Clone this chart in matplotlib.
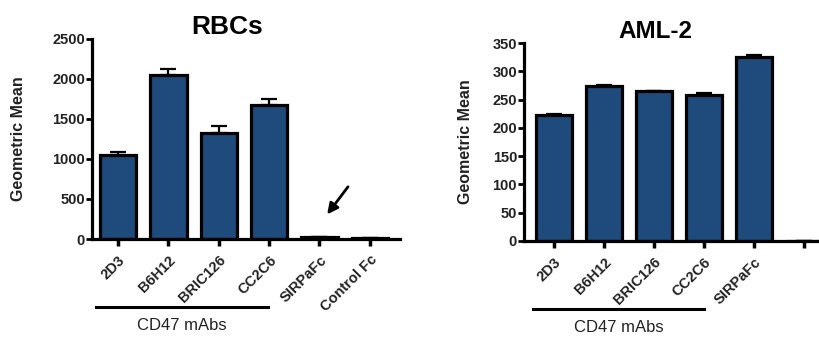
import matplotlib
matplotlib.use("Agg")
import matplotlib.pyplot as plt

plt.rcParams["font.family"] = ["Liberation Sans", "DejaVu Sans"]

BAR_COLOR = "#1F4A7C"

rbc_labels = ["2D3", "B6H12", "BRIC126", "CC2C6", "SIRPaFc", "Control Fc"]
rbc_values = [1045, 2045, 1320, 1680, 25, 15]
rbc_errors = [40, 75, 95, 65, 5, 3]

aml_labels = ["2D3", "B6H12", "BRIC126", "CC2C6", "SIRPaFc", ""]
aml_values = [223, 274, 265, 258, 325, 0]
aml_errors = [1, 1, 1, 3, 3, 0]

group_label = "CD47 mAbs"
# arrow pointing at the SIRPaFc bar in the RBC panel (data coords)
arrow_tail = (4.6, 680)
arrow_head = (4.12, 280)


def draw_panel(ax, labels, values, errors, ymax, ystep, title, xlim, title_size,
               title_x, title_pad, ylab_x):
    x = list(range(len(labels)))
    ax.bar(x, values, width=0.72, color=BAR_COLOR, edgecolor="black", linewidth=2.3, zorder=2)
    ax.errorbar(x, values, yerr=[[0] * len(errors), errors], fmt="none", ecolor="black",
                elinewidth=1.6, capsize=6, capthick=1.6, zorder=1)
    ax.set_xlim(*xlim)
    ax.set_ylim(0, ymax)
    ax.set_yticks(range(0, ymax + 1, ystep))
    ax.set_xticks(x)
    ax.set_xticklabels(labels, rotation=45, ha="right", rotation_mode="anchor",
                       fontsize=10.5, fontweight="bold", color="#222222")
    for lab in ax.get_yticklabels():
        lab.set_fontweight("bold")
        lab.set_fontsize(10.5)
        lab.set_color("#222222")
    ax.tick_params(axis="y", length=4, width=2, pad=1)
    ax.tick_params(axis="x", length=5, width=2.5, pad=5)
    for side in ["top", "right"]:
        ax.spines[side].set_visible(False)
    for side in ["left", "bottom"]:
        ax.spines[side].set_linewidth(2.3)
    ax.set_ylabel("Geometric Mean", fontsize=11.5, fontweight="bold", color="#222222")
    ax.yaxis.set_label_coords(ylab_x, 0.5)
    ax.set_title(title, fontsize=title_size, fontweight="bold", x=title_x, pad=title_pad)


fig = plt.figure(figsize=(8.2, 3.37), dpi=100)

ax1 = fig.add_axes([0.1122, 0.2908, 0.3756, 0.5935])
draw_panel(ax1, rbc_labels, rbc_values, rbc_errors, 2500, 500, "RBCs", (-0.52, 5.6), 19,
           0.44, 3, -0.214)
ax1.annotate("", xy=arrow_head, xytext=arrow_tail,
             arrowprops=dict(arrowstyle="-|>", color="black", lw=2, mutation_scale=16))

ax2 = fig.add_axes([0.639, 0.2849, 0.361, 0.5875])
draw_panel(ax2, aml_labels, aml_values, aml_errors, 350, 50, "AML-2", (-0.6, 5.32), 17.5,
           0.443, 2, -0.172)

# group bracket under the four CD47 antibodies
for ax, (x0, x1), ty in [(ax1, (96, 268), 307), (ax2, (533, 704), 309)]:
    fig.add_artist(plt.Line2D([x0 / 820, x1 / 820], [1 - ty / 337, 1 - ty / 337],
                              color="black", lw=2.2))
    fig.text((x0 + x1) / 2 / 820, 1 - (ty + 18) / 337, group_label,
             ha="center", va="center", fontsize=12, color="#222222")

fig.savefig("out.png", dpi=100)
